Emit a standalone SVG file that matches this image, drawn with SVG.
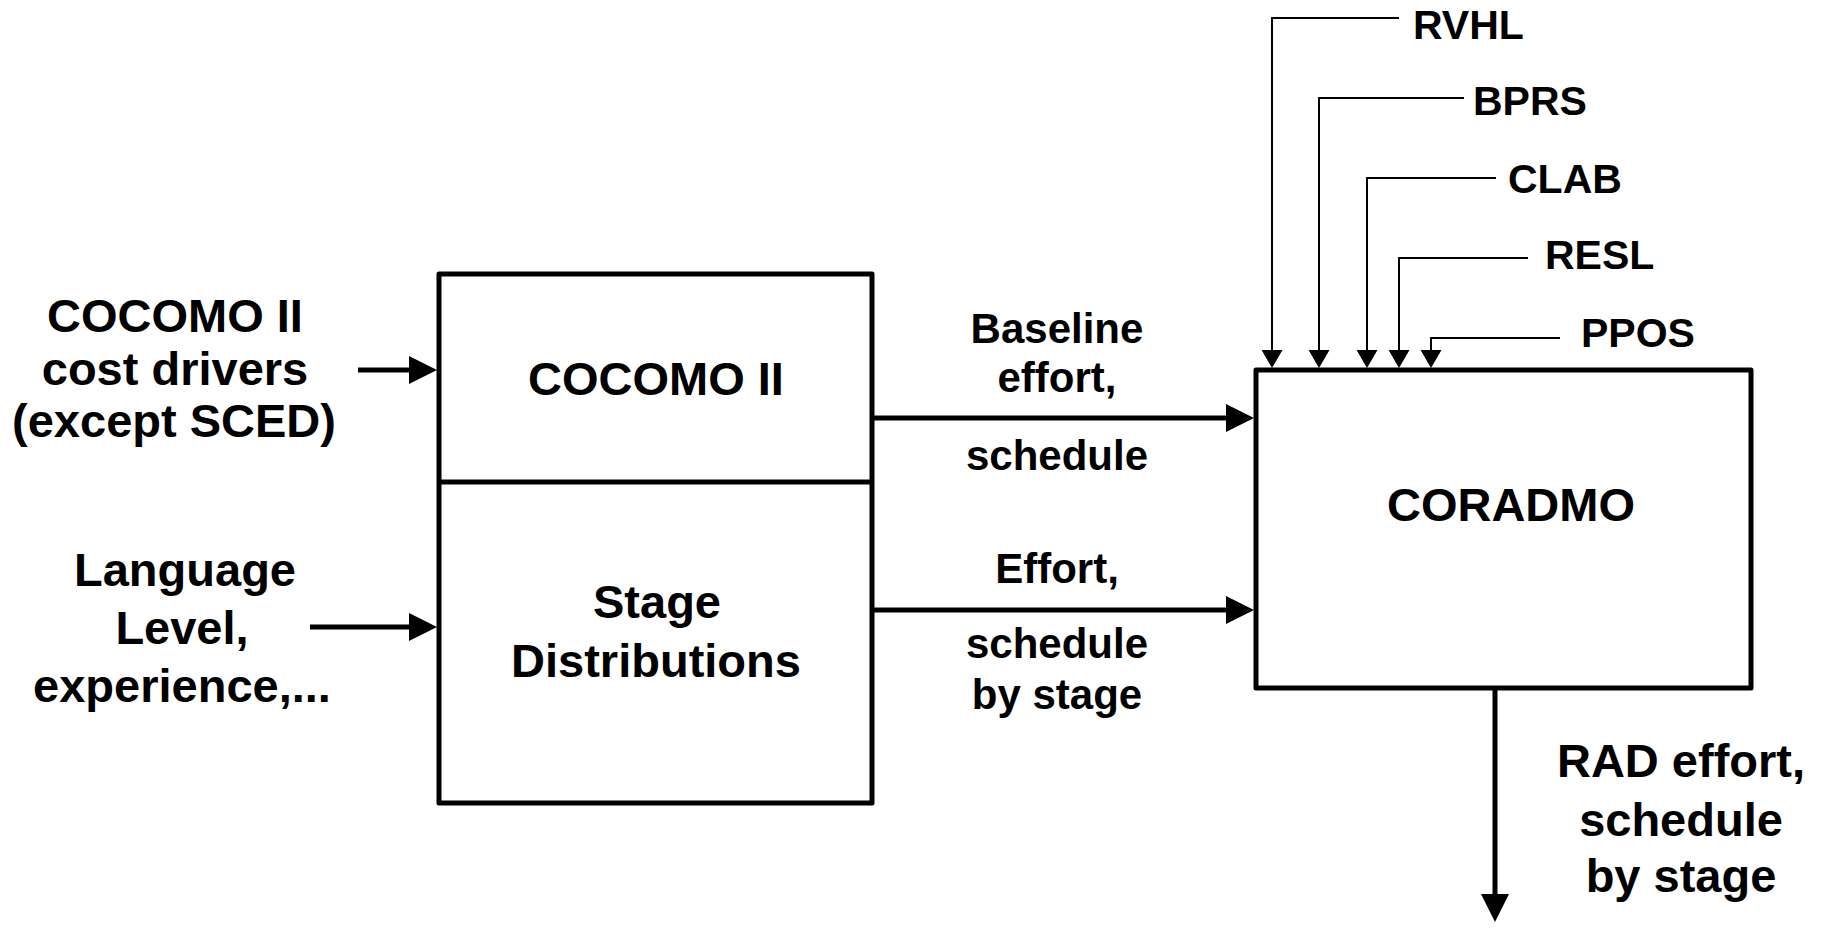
<svg xmlns="http://www.w3.org/2000/svg" width="1823" height="928" viewBox="0 0 1823 928">
<style>
  .box { fill: #fff; stroke: #000; stroke-width: 5; stroke-linejoin: round; }
  .thick { fill: none; stroke: #000; stroke-width: 5; }
  .thin { fill: none; stroke: #000; stroke-width: 2; }
  text { font-family: "Liberation Sans", Arial, sans-serif; font-weight: bold; fill: #000; }
  .big { font-size: 47px; text-anchor: middle; }
  .mid { font-size: 42px; text-anchor: middle; }
  .lab { font-size: 41px; }
</style>
<defs>
  <marker id="ah" markerUnits="userSpaceOnUse" viewBox="0 0 28 28" refX="4" refY="14" markerWidth="28" markerHeight="28" orient="auto">
    <path d="M0,0 L28,14 L0,28 z" fill="#000"/>
  </marker>
  <marker id="as" markerUnits="userSpaceOnUse" viewBox="0 0 18 21" refX="3" refY="10.5" markerWidth="18" markerHeight="21" orient="auto">
    <path d="M0,0 L18,10.5 L0,21 z" fill="#000"/>
  </marker>
</defs>

<g id="cocomo-box">
  <rect class="box" x="439" y="274" width="433" height="529"/>
  <line class="thick" x1="439" y1="482" x2="872" y2="482"/>
  <text class="big" x="656" y="395">COCOMO II</text>
</g>
<g id="stage-box">
  <text class="big" x="657" y="618">Stage</text>
  <text class="big" x="656" y="677">Distributions</text>
</g>
<g id="coradmo-box">
  <rect class="box" x="1256" y="370" width="495" height="318"/>
  <text class="big" x="1511" y="521">CORADMO</text>
</g>

<g id="input-labels">
  <text class="big" x="175" y="332">COCOMO II</text>
  <text class="big" x="175" y="385">cost drivers</text>
  <text class="big" x="174" y="437">(except SCED)</text>
  <text class="big" x="185" y="586">Language</text>
  <text class="big" x="182" y="644">Level,</text>
  <text class="big" x="182" y="702">experience,...</text>
</g>

<g id="flow-labels">
  <text class="mid" x="1057" y="343">Baseline</text>
  <text class="mid" x="1057" y="392">effort,</text>
  <text class="mid" x="1057" y="470">schedule</text>
  <text class="mid" x="1057" y="583">Effort,</text>
  <text class="mid" x="1057" y="658">schedule</text>
  <text class="mid" x="1057" y="709">by stage</text>
  <text class="big" x="1681" y="777">RAD effort,</text>
  <text class="big" x="1681" y="836">schedule</text>
  <text class="big" x="1681" y="892">by stage</text>
</g>

<g id="driver-labels">
  <text class="lab" x="1413" y="39">RVHL</text>
  <text class="lab" x="1473" y="115">BPRS</text>
  <text class="lab" x="1508" y="193">CLAB</text>
  <text class="lab" x="1545" y="269">RESL</text>
  <text class="lab" x="1581" y="347">PPOS</text>
</g>

<g id="connectors">
  <line class="thick" x1="358" y1="370" x2="413" y2="370" marker-end="url(#ah)"/>
  <line class="thick" x1="310" y1="627" x2="413" y2="627" marker-end="url(#ah)"/>
  <line class="thick" x1="872" y1="418" x2="1230" y2="418" marker-end="url(#ah)"/>
  <line class="thick" x1="872" y1="610" x2="1230" y2="610" marker-end="url(#ah)"/>
  <line class="thick" x1="1495" y1="688" x2="1495" y2="898" marker-end="url(#ah)"/>
  <path class="thin" d="M1399,18 H1272 V353" marker-end="url(#as)"/>
  <path class="thin" d="M1464,98 H1319 V353" marker-end="url(#as)"/>
  <path class="thin" d="M1496,178 H1367 V353" marker-end="url(#as)"/>
  <path class="thin" d="M1528,258 H1399 V353" marker-end="url(#as)"/>
  <path class="thin" d="M1560,338 H1431 V353" marker-end="url(#as)"/>
</g>
</svg>
